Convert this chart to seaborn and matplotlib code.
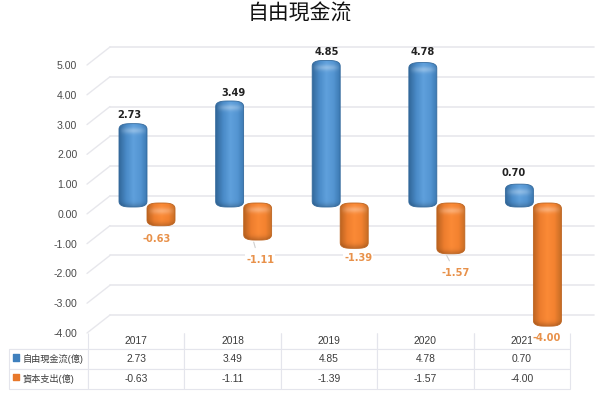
import numpy as np
import pandas as pd
import matplotlib
matplotlib.use("Agg")
import matplotlib.pyplot as plt
import seaborn as sns
from matplotlib.colors import LinearSegmentedColormap
from matplotlib.path import Path
from matplotlib.patches import PathPatch

# Values
years = ["2017", "2018", "2019", "2020", "2021"]
free_cash_flow = [2.73, 3.49, 4.85, 4.78, 0.70]
capital_spending = [-0.63, -1.11, -1.39, -1.57, -4.00]
series_names = ["自由現金流(億)", "資本支出(億)"]
y_ticks = [5, 4, 3, 2, 1, 0, -1, -2, -3, -4]

W, H = 608, 393
GRID = "#e7e7ec"
BLUE_STOPS = ["#33699c", "#4a8bc8", "#5fa0dc", "#5495d2", "#3a77b0"]
ORANGE_STOPS = ["#bd6420", "#ee7e2e", "#fb8a36", "#f38230", "#c46c24"]

sns.set_theme(style="white")
plt.rcParams["font.family"] = ["Liberation Sans", "Noto Sans CJK TC", "DejaVu Sans"]


def px_axes(fig, left, top, right, bottom, **kw):
    # Axes placed by pixel box, y counted from the top of the picture
    return fig.add_axes([left / W, 1 - bottom / H, (right - left) / W, (bottom - top) / H], **kw)


def cylinder(ax, patch, stops, px_x, px_y):
    x0, w = patch.get_x(), patch.get_width()
    a, b = sorted([patch.get_y(), patch.get_y() + patch.get_height()])
    over = 2 / px_y
    if b > 0:
        low, high = a - over, b
    else:
        low, high = a - over, b + over
    rx = w / 2
    ry = 6 / px_y
    cx = x0 + rx
    t = np.linspace(0, np.pi, 40)
    sx = np.sign(np.cos(t)) * np.abs(np.cos(t)) ** 0.6
    sy = np.sin(t) ** 0.8
    top = np.column_stack([cx + rx * sx, high - ry + ry * sy])
    bot = np.column_stack([cx - rx * sx, low + ry - ry * sy])
    outline = Path(np.vstack([top, bot, top[:1]]))

    # horizontal shading, with a light rim near the top and a dark foot
    n_rows = max(int((high - low) * px_y), 8)
    base = LinearSegmentedColormap.from_list("c", stops)(np.linspace(0, 1, 40))[:, :3]
    img = np.repeat(base[None, :, :], n_rows, axis=0)
    rows = np.arange(n_rows)[:, None]
    cols = np.linspace(-1, 1, 40)[None, :]
    glow = np.exp(-((rows - 7) / 3.0) ** 2) * np.clip(1 - cols ** 2, 0, 1) * 0.3
    img = img + (1 - img) * glow[:, :, None]
    foot = np.exp(-((n_rows - rows) / 4.0) ** 2) * 0.2
    img = img * (1 - foot[:, :, None])

    im = ax.imshow(img, extent=(x0, x0 + w, low, high), aspect="auto",
                   interpolation="bilinear", zorder=3)
    im.set_clip_path(outline, ax.transData)
    ax.add_patch(PathPatch(outline, fc="none", ec=stops[0], lw=0.6, zorder=3))


fig = plt.figure(figsize=(W / 100, H / 100), dpi=100, facecolor="white")
fig.text(300 / W, 1 - 14 / H, "自由現金流", ha="center", va="center", fontsize=15,
         fontweight="medium", color="#111111", family=["Noto Sans CJK TC", "DejaVu Sans"])

# Back wall with the grid lines
ax_back = px_axes(fig, 110, 47, 594, 315, zorder=1)
ax_back.set_xlim(0, 1)
ax_back.set_ylim(-4, 5)
ax_back.axis("off")
depth_x, depth_y = -23 / 484, 18 / 29.78
for v in y_ticks:
    ax_back.plot([0, 1], [v, v], color=GRID, lw=1.2, clip_on=False)
    ax_back.plot([depth_x, 0], [v - depth_y, v], color=GRID, lw=1.0, clip_on=False)

# Front edge, only carries the y labels
ax_front = px_axes(fig, 87, 65, 570, 333, zorder=2)
ax_front.patch.set_alpha(0)
ax_front.set_ylim(-4, 5)
ax_front.set_xticks([])
ax_front.set_yticks(y_ticks)
ax_front.set_yticklabels([f"{v:.2f}" for v in y_ticks], fontsize=7.6, color="#4a4a4a")
ax_front.tick_params(axis="y", length=0, pad=7)
sns.despine(ax=ax_front, left=True, bottom=True)

# Table under the chart
ax_tab = px_axes(fig, 9, 333, 570, 389, zorder=3)
ax_tab.axis("off")
cells = [[""] + years,
         [series_names[0]] + [f"{v:.2f}" for v in free_cash_flow],
         [series_names[1]] + [f"{v:.2f}" for v in capital_spending]]
col_w = [79 / 561] + [96.4 / 561] * 5
tab = ax_tab.table(cellText=cells, colWidths=col_w, cellLoc="center", bbox=[0, 0, 1, 1])
tab.auto_set_font_size(False)
row_h = [16 / 56, 20 / 56, 20 / 56]
for (r, c), cell in tab.get_celld().items():
    cell.set_height(row_h[r])
    cell.set_edgecolor("#e4e5ec")
    cell.set_linewidth(0.8)
    cell.set_text_props(fontsize=7.4, color="#3c3c3c")
    if r == 0:
        cell.visible_edges = "B" if c == 0 else "LRB"
    if c == 0 and r > 0:
        cell.PAD = 0.165
        cell.get_text().set_ha("left")
        cell.get_text().set_fontsize(6.6)
ax_tab.scatter([0.0125, 0.0125], [1 - 24.5 / 56, 1 - 44 / 56], marker="s", s=20,
               c=["#3f80bd", "#e8782a"], transform=ax_tab.transAxes, zorder=6, clip_on=False)

# Bars, the box runs a little past -4 so the rounded foot of the last bar fits
px_y = 268.2 / 9
px_x = 483 / 5
y_floor = -4.3
ax = px_axes(fig, 98.7, 56, 581.7, 324.2 + (-4 - y_floor) * px_y, zorder=4)
ax.patch.set_alpha(0)
df = pd.DataFrame({
    "year": years * 2,
    "value": free_cash_flow + capital_spending,
    "series": [series_names[0]] * 5 + [series_names[1]] * 5,
})
sns.barplot(data=df, x="year", y="value", hue="series", width=0.58, gap=0,
            palette=["#3f80bd", "#e8782a"], legend=False, ax=ax)
ax.axis("off")
bars = list(ax.patches)
for i, bar in enumerate(bars):
    bar.set_visible(False)
    cylinder(ax, bar, BLUE_STOPS if i < 5 else ORANGE_STOPS, px_x, px_y)
ax.set_xlim(-0.5, 4.5)
ax.set_ylim(y_floor, 5)

# Data labels, offsets in pixels from the bar end
label_px = [(-4, 8.5), (3.5, 8), (1, 8.5), (0, 10.5), (-5.5, 11),
            (-4, -15), (2.5, -22), (4, -11.6), (5, -21), (-0.5, -14)]
leader_shift = {6: -5, 8: -6}
values = free_cash_flow + capital_spending
for i, (bar, v, (dx, dy)) in enumerate(zip(bars, values, label_px)):
    shift = leader_shift.get(i, 0)
    leader = None
    if i in leader_shift:
        leader = dict(arrowstyle="-", color="#cfcfcf", lw=0.8, shrinkA=5, shrinkB=3, relpos=(0.4, 1))
    ax.annotate(f"{v:.2f}", xy=(bar.get_x() + bar.get_width() / 2 + shift / px_x, v),
                xytext=((dx - shift) * 0.72, dy * 0.72), textcoords="offset points",
                ha="center", va="center", fontsize=7.1, fontweight="bold",
                family="DejaVu Sans", color="#222222" if i < 5 else "#e8914a",
                annotation_clip=False, arrowprops=leader, zorder=7,
                bbox=dict(fc="white", ec="none", pad=0.6) if i >= 5 else None)

fig.savefig("out.png", dpi=100)
